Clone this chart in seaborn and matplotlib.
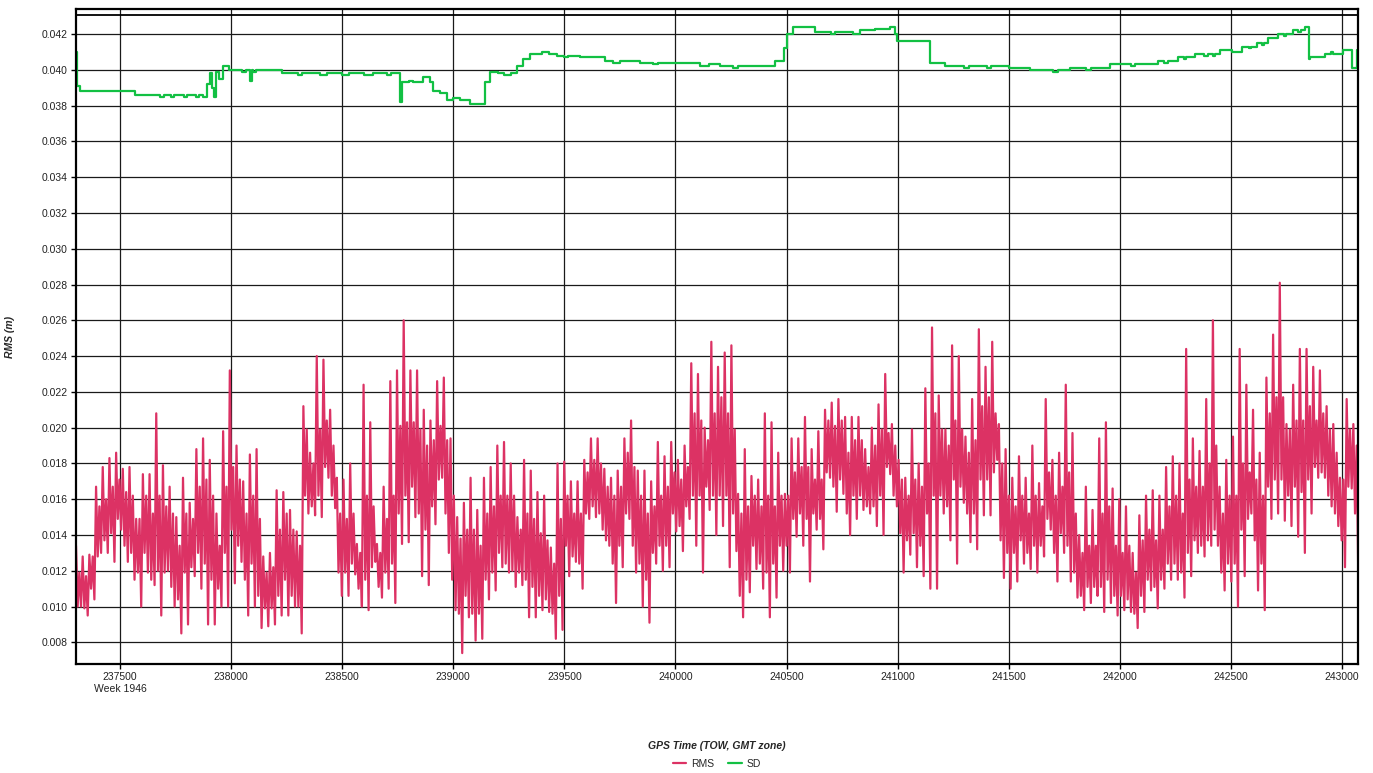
import numpy as np
import pandas as pd
import matplotlib
matplotlib.use("Agg")
import matplotlib.pyplot as plt
import seaborn as sns

# ---- data -----------------------------------------------------------------
# RMS, summarised per 30 s window: highest sample, lowest sample, and the
# top / bottom of the range where most of the window's samples sit
rms_start = 237302.0
rms_window = 30.1
rms_peak = [
    0.0134, 0.0128, 0.0129, 0.0167, 0.0178, 0.0183, 0.0186, 0.0177, 0.0178, 0.0149, 0.0174, 0.0174, 0.0208, 0.0179, 0.0167, 0.0150,
    0.0172, 0.0158, 0.0188, 0.0194, 0.0182, 0.0152, 0.0198, 0.0232, 0.0190, 0.0170, 0.0185, 0.0188, 0.0128, 0.0130, 0.0165, 0.0164,
    0.0154, 0.0142, 0.0212, 0.0186, 0.0240, 0.0238, 0.0210, 0.0172, 0.0171, 0.0180, 0.0135, 0.0224, 0.0203, 0.0135, 0.0167, 0.0226,
    0.0232, 0.0260, 0.0232, 0.0232, 0.0210, 0.0204, 0.0226, 0.0228, 0.0194, 0.0150, 0.0158, 0.0172, 0.0154, 0.0172, 0.0178, 0.0190,
    0.0192, 0.0180, 0.0150, 0.0182, 0.0176, 0.0164, 0.0162, 0.0133, 0.0180, 0.0181, 0.0170, 0.0170, 0.0182, 0.0194, 0.0194, 0.0177,
    0.0172, 0.0176, 0.0194, 0.0204, 0.0176, 0.0176, 0.0170, 0.0192, 0.0184, 0.0192, 0.0182, 0.0190, 0.0236, 0.0230, 0.0200, 0.0248,
    0.0234, 0.0242, 0.0246, 0.0163, 0.0188, 0.0173, 0.0171, 0.0208, 0.0203, 0.0186, 0.0163, 0.0194, 0.0194, 0.0206, 0.0188, 0.0198,
    0.0210, 0.0214, 0.0216, 0.0206, 0.0206, 0.0206, 0.0188, 0.0200, 0.0213, 0.0230, 0.0202, 0.0182, 0.0172, 0.0199, 0.0180, 0.0222,
    0.0256, 0.0218, 0.0199, 0.0246, 0.0240, 0.0195, 0.0216, 0.0255, 0.0234, 0.0248, 0.0202, 0.0188, 0.0172, 0.0184, 0.0172, 0.0190,
    0.0169, 0.0216, 0.0182, 0.0186, 0.0224, 0.0197, 0.0140, 0.0167, 0.0154, 0.0194, 0.0203, 0.0166, 0.0160, 0.0156, 0.0130, 0.0151,
    0.0162, 0.0165, 0.0162, 0.0178, 0.0184, 0.0180, 0.0244, 0.0194, 0.0187, 0.0216, 0.0260, 0.0167, 0.0182, 0.0195, 0.0244, 0.0224,
    0.0210, 0.0186, 0.0228, 0.0252, 0.0281, 0.0202, 0.0224, 0.0244, 0.0244, 0.0234, 0.0232, 0.0212, 0.0202, 0.0172, 0.0216, 0.0202,
]
rms_trough = [
    0.0100, 0.0095, 0.0104, 0.0130, 0.0130, 0.0125, 0.0143, 0.0125, 0.0115, 0.0100, 0.0119, 0.0112, 0.0095, 0.0120, 0.0100, 0.0085,
    0.0090, 0.0117, 0.0110, 0.0090, 0.0090, 0.0100, 0.0100, 0.0113, 0.0125, 0.0095, 0.0100, 0.0088, 0.0089, 0.0090, 0.0095, 0.0095,
    0.0100, 0.0085, 0.0152, 0.0151, 0.0150, 0.0172, 0.0155, 0.0106, 0.0106, 0.0118, 0.0100, 0.0098, 0.0125, 0.0105, 0.0110, 0.0102,
    0.0135, 0.0136, 0.0150, 0.0117, 0.0112, 0.0146, 0.0172, 0.0130, 0.0098, 0.0074, 0.0094, 0.0081, 0.0082, 0.0104, 0.0109, 0.0122,
    0.0119, 0.0111, 0.0112, 0.0094, 0.0094, 0.0098, 0.0097, 0.0082, 0.0087, 0.0117, 0.0125, 0.0110, 0.0149, 0.0150, 0.0143, 0.0134,
    0.0102, 0.0122, 0.0149, 0.0119, 0.0100, 0.0091, 0.0124, 0.0120, 0.0122, 0.0142, 0.0131, 0.0149, 0.0134, 0.0119, 0.0154, 0.0140,
    0.0145, 0.0122, 0.0131, 0.0094, 0.0108, 0.0121, 0.0110, 0.0094, 0.0105, 0.0120, 0.0119, 0.0139, 0.0134, 0.0114, 0.0143, 0.0132,
    0.0172, 0.0153, 0.0163, 0.0140, 0.0149, 0.0154, 0.0152, 0.0145, 0.0140, 0.0174, 0.0156, 0.0119, 0.0129, 0.0122, 0.0117, 0.0110,
    0.0110, 0.0152, 0.0137, 0.0124, 0.0158, 0.0136, 0.0132, 0.0151, 0.0151, 0.0182, 0.0116, 0.0110, 0.0114, 0.0124, 0.0121, 0.0119,
    0.0128, 0.0143, 0.0114, 0.0130, 0.0114, 0.0105, 0.0098, 0.0102, 0.0106, 0.0097, 0.0102, 0.0095, 0.0098, 0.0097, 0.0088, 0.0097,
    0.0109, 0.0099, 0.0110, 0.0115, 0.0115, 0.0105, 0.0117, 0.0130, 0.0128, 0.0134, 0.0134, 0.0109, 0.0114, 0.0100, 0.0117, 0.0152,
    0.0109, 0.0098, 0.0149, 0.0152, 0.0148, 0.0145, 0.0139, 0.0130, 0.0152, 0.0172, 0.0172, 0.0156, 0.0145, 0.0122, 0.0166, 0.0113,
]
rms_core_hi = [
    0.0119, 0.0117, 0.0128, 0.0156, 0.0160, 0.0167, 0.0171, 0.0164, 0.0162, 0.0149, 0.0162, 0.0152, 0.0162, 0.0156, 0.0152, 0.0134,
    0.0152, 0.0149, 0.0167, 0.0171, 0.0162, 0.0134, 0.0167, 0.0178, 0.0171, 0.0152, 0.0162, 0.0149, 0.0119, 0.0122, 0.0143, 0.0152,
    0.0143, 0.0134, 0.0199, 0.0180, 0.0199, 0.0204, 0.0190, 0.0152, 0.0149, 0.0152, 0.0130, 0.0162, 0.0156, 0.0130, 0.0149, 0.0162,
    0.0201, 0.0203, 0.0203, 0.0199, 0.0190, 0.0193, 0.0201, 0.0193, 0.0162, 0.0138, 0.0143, 0.0143, 0.0134, 0.0152, 0.0156, 0.0162,
    0.0162, 0.0162, 0.0143, 0.0152, 0.0149, 0.0141, 0.0137, 0.0124, 0.0149, 0.0162, 0.0152, 0.0152, 0.0175, 0.0182, 0.0180, 0.0167,
    0.0162, 0.0167, 0.0186, 0.0178, 0.0162, 0.0152, 0.0156, 0.0162, 0.0167, 0.0175, 0.0171, 0.0178, 0.0208, 0.0204, 0.0193, 0.0208,
    0.0217, 0.0208, 0.0199, 0.0152, 0.0156, 0.0162, 0.0156, 0.0162, 0.0156, 0.0162, 0.0162, 0.0175, 0.0178, 0.0178, 0.0171, 0.0171,
    0.0204, 0.0201, 0.0204, 0.0186, 0.0193, 0.0193, 0.0178, 0.0190, 0.0199, 0.0197, 0.0190, 0.0171, 0.0162, 0.0171, 0.0167, 0.0180,
    0.0208, 0.0199, 0.0190, 0.0204, 0.0199, 0.0186, 0.0193, 0.0212, 0.0217, 0.0208, 0.0180, 0.0162, 0.0156, 0.0162, 0.0152, 0.0162,
    0.0156, 0.0175, 0.0162, 0.0167, 0.0175, 0.0152, 0.0130, 0.0134, 0.0134, 0.0152, 0.0156, 0.0134, 0.0130, 0.0134, 0.0119, 0.0137,
    0.0143, 0.0137, 0.0143, 0.0156, 0.0162, 0.0152, 0.0171, 0.0167, 0.0167, 0.0180, 0.0190, 0.0152, 0.0162, 0.0162, 0.0180, 0.0175,
    0.0171, 0.0162, 0.0208, 0.0217, 0.0217, 0.0199, 0.0204, 0.0204, 0.0212, 0.0204, 0.0208, 0.0199, 0.0186, 0.0171, 0.0199, 0.0190,
]
rms_core_lo = [
    0.0100, 0.0099, 0.0110, 0.0128, 0.0137, 0.0141, 0.0149, 0.0134, 0.0130, 0.0119, 0.0130, 0.0115, 0.0120, 0.0119, 0.0111, 0.0104,
    0.0119, 0.0122, 0.0130, 0.0124, 0.0115, 0.0110, 0.0130, 0.0143, 0.0134, 0.0115, 0.0124, 0.0106, 0.0099, 0.0099, 0.0106, 0.0115,
    0.0106, 0.0100, 0.0162, 0.0156, 0.0162, 0.0178, 0.0162, 0.0119, 0.0119, 0.0124, 0.0110, 0.0115, 0.0122, 0.0111, 0.0119, 0.0124,
    0.0152, 0.0162, 0.0167, 0.0152, 0.0143, 0.0156, 0.0171, 0.0152, 0.0115, 0.0096, 0.0106, 0.0096, 0.0096, 0.0115, 0.0119, 0.0130,
    0.0124, 0.0120, 0.0119, 0.0115, 0.0111, 0.0106, 0.0104, 0.0096, 0.0106, 0.0134, 0.0128, 0.0124, 0.0152, 0.0156, 0.0152, 0.0137,
    0.0124, 0.0134, 0.0152, 0.0134, 0.0124, 0.0115, 0.0130, 0.0134, 0.0134, 0.0152, 0.0145, 0.0156, 0.0162, 0.0162, 0.0167, 0.0162,
    0.0162, 0.0162, 0.0152, 0.0106, 0.0115, 0.0134, 0.0124, 0.0119, 0.0124, 0.0134, 0.0134, 0.0149, 0.0152, 0.0149, 0.0152, 0.0149,
    0.0175, 0.0167, 0.0171, 0.0152, 0.0162, 0.0162, 0.0156, 0.0156, 0.0162, 0.0178, 0.0162, 0.0141, 0.0137, 0.0141, 0.0134, 0.0152,
    0.0162, 0.0162, 0.0156, 0.0171, 0.0167, 0.0152, 0.0152, 0.0171, 0.0171, 0.0175, 0.0137, 0.0130, 0.0130, 0.0137, 0.0130, 0.0134,
    0.0134, 0.0149, 0.0130, 0.0141, 0.0134, 0.0119, 0.0106, 0.0111, 0.0111, 0.0111, 0.0115, 0.0106, 0.0106, 0.0104, 0.0096, 0.0106,
    0.0115, 0.0111, 0.0115, 0.0124, 0.0124, 0.0119, 0.0130, 0.0137, 0.0134, 0.0137, 0.0143, 0.0119, 0.0124, 0.0124, 0.0143, 0.0149,
    0.0137, 0.0124, 0.0167, 0.0171, 0.0171, 0.0162, 0.0167, 0.0164, 0.0171, 0.0178, 0.0175, 0.0162, 0.0152, 0.0137, 0.0167, 0.0152,
]

# SD: step changes (time of change, new level)
sd_time = [
    237300, 237305, 237318, 237566, 237680, 237700, 237730, 237745, 237790, 237800, 237840, 237855, 237875,
    237890, 237905, 237915, 237922, 237930, 237945, 237962, 237990, 238050, 238065, 238085, 238095, 238100, 238110,
    238228, 238300, 238320, 238400, 238430, 238500, 238530, 238600, 238640, 238700, 238720,
    238759, 238768, 238800, 238820, 238863, 238895, 238908, 238940, 238971, 239000, 239030, 239075,
    239142, 239165, 239200, 239230, 239260, 239286, 239315, 239345, 239400, 239430, 239467, 239500, 239515, 239570,
    239683, 239720, 239750, 239841, 239900, 239920, 240000, 240111, 240150, 240200, 240260, 240280, 240314,
    240449, 240490, 240503, 240530, 240629, 240700, 240720, 240800, 240832, 240899, 240967, 240990, 240998,
    241147, 241214, 241300, 241320, 241400, 241420, 241500, 241597, 241700, 241720, 241777, 241850, 241870,
    241957, 242050, 242070, 242173, 242200, 242215, 242263, 242290, 242300, 242340, 242380, 242395, 242420, 242430,
    242452, 242506, 242551, 242580, 242590, 242619, 242640, 242650, 242668, 242713, 242740, 242750, 242781, 242800, 242815,
    242835, 242850, 242857, 242925, 242950, 242960, 243006, 243047, 243066, 243072,
]
sd_value = [
    0.0410, 0.0391, 0.0388, 0.0386, 0.0385, 0.0386, 0.0385, 0.0386, 0.0385, 0.0386, 0.0385, 0.0386, 0.0385,
    0.0392, 0.0398, 0.0390, 0.0385, 0.0399, 0.0395, 0.0402, 0.0400, 0.0399, 0.0400, 0.0394, 0.0400, 0.0399, 0.0400,
    0.0398, 0.0397, 0.0398, 0.0397, 0.0398, 0.0397, 0.0398, 0.0397, 0.0398, 0.0397, 0.0398,
    0.0382, 0.0393, 0.0394, 0.0393, 0.0396, 0.0393, 0.0388, 0.0387, 0.0383, 0.0384, 0.0383, 0.0381,
    0.0393, 0.0399, 0.0398, 0.0397, 0.0398, 0.0402, 0.0406, 0.0409, 0.0410, 0.0409, 0.0408, 0.0407, 0.0408, 0.0407,
    0.0405, 0.0404, 0.0405, 0.0404, 0.0403, 0.0404, 0.0404, 0.0402, 0.0403, 0.0402, 0.0401, 0.0402, 0.0402,
    0.0405, 0.0412, 0.0420, 0.0424, 0.0421, 0.0420, 0.0421, 0.0420, 0.0422, 0.0423, 0.0424, 0.0420, 0.0416,
    0.0404, 0.0402, 0.0401, 0.0402, 0.0401, 0.0402, 0.0401, 0.0400, 0.0399, 0.0400, 0.0401, 0.0400, 0.0401,
    0.0403, 0.0402, 0.0403, 0.0405, 0.0404, 0.0405, 0.0407, 0.0406, 0.0407, 0.0409, 0.0408, 0.0409, 0.0408, 0.0409,
    0.0411, 0.0410, 0.0413, 0.0412, 0.0413, 0.0415, 0.0414, 0.0415, 0.0418, 0.0420, 0.0419, 0.0420, 0.0422, 0.0421, 0.0422,
    0.0424, 0.0406, 0.0407, 0.0409, 0.0410, 0.0409, 0.0411, 0.0401, 0.0411, 0.0411,
]

x_ticks = [237500, 238000, 238500, 239000, 239500, 240000, 240500, 241000, 241500, 242000, 242500, 243000]
x_tick_labels = ["237500\nWeek 1946"] + [str(t) for t in x_ticks[1:]]
y_ticks = [0.008, 0.010, 0.012, 0.014, 0.016, 0.018, 0.020, 0.022, 0.024, 0.026,
           0.028, 0.030, 0.032, 0.034, 0.036, 0.038, 0.040, 0.042]

# ---- build the series -------------------------------------------------------
rms_color = "#dc3264"
sd_color = "#12c043"

# each window is traced peak -> bottom of dense range -> top of dense range -> trough
rms_t, rms_v = [], []
quarter = rms_window / 4
for i in range(len(rms_peak)):
    base = rms_start + rms_window * i
    rms_t += [base, base + quarter, base + 2 * quarter, base + 3 * quarter]
    rms_v += [rms_peak[i], rms_core_lo[i], rms_core_hi[i], rms_trough[i]]
rms_df = pd.DataFrame({"time": rms_t, "value": rms_v})
sd_df = pd.DataFrame({"time": sd_time, "value": sd_value}).sort_values("time")

# ---- draw -------------------------------------------------------------------
sns.set_theme(style="white")
plt.rcParams["font.family"] = ["Liberation Sans", "DejaVu Sans"]

fig = plt.figure(figsize=(13.73, 7.73), dpi=100)
ax = fig.add_axes([76 / 1373, 1 - 664 / 773, (1358 - 76) / 1373, (664 - 9) / 773])

sns.lineplot(data=rms_df, x="time", y="value", ax=ax, color=rms_color, lw=1.6,
             estimator=None, sort=False, label="RMS")
sns.lineplot(data=sd_df, x="time", y="value", ax=ax, color=sd_color, lw=1.6,
             estimator=None, sort=False, drawstyle="steps-post", label="SD")

ax.set_xlim(237302, 243072)
ax.set_ylim(0.00679, 0.0434)
ax.set_xticks(x_ticks)
ax.set_xticklabels(x_tick_labels)
ax.set_yticks(y_ticks)
ax.set_yticklabels([f"{v:.3f}" for v in y_ticks])

ax.grid(True, color="#1a1a1a", lw=0.9)
ax.set_axisbelow(True)
# double rule along the top of the plot area
ax.axhline(0.04306, color="black", lw=1.3, zorder=1)
for s in ax.spines.values():
    s.set_visible(True)
    s.set_color("black")
    s.set_linewidth(1.6)

ax.tick_params(axis="both", which="major", direction="out", length=3.5, width=1,
               color="black", labelsize=7.5, labelcolor="#222222", pad=2.5,
               bottom=True, left=True)

ax.set_xlabel("GPS Time (TOW, GMT zone)", fontsize=7.5, fontweight="bold", fontstyle="italic")
ax.set_ylabel("RMS (m)", fontsize=7.5, fontweight="bold", fontstyle="italic")
ax.xaxis.set_label_coords(0.5, (664 - 741) / 655)
ax.yaxis.set_label_coords((15 - 76) / 1282, 0.5)

handles, labels = ax.get_legend_handles_labels()
ax.get_legend().remove()
fig.legend(handles, labels, loc="center", bbox_to_anchor=(717 / 1373, 1 - 764 / 773),
           ncol=2, frameon=False, fontsize=7.5, handlelength=1.3, handletextpad=0.5,
           columnspacing=1.3, borderpad=0)

fig.savefig("out.png", dpi=100, facecolor="white")
